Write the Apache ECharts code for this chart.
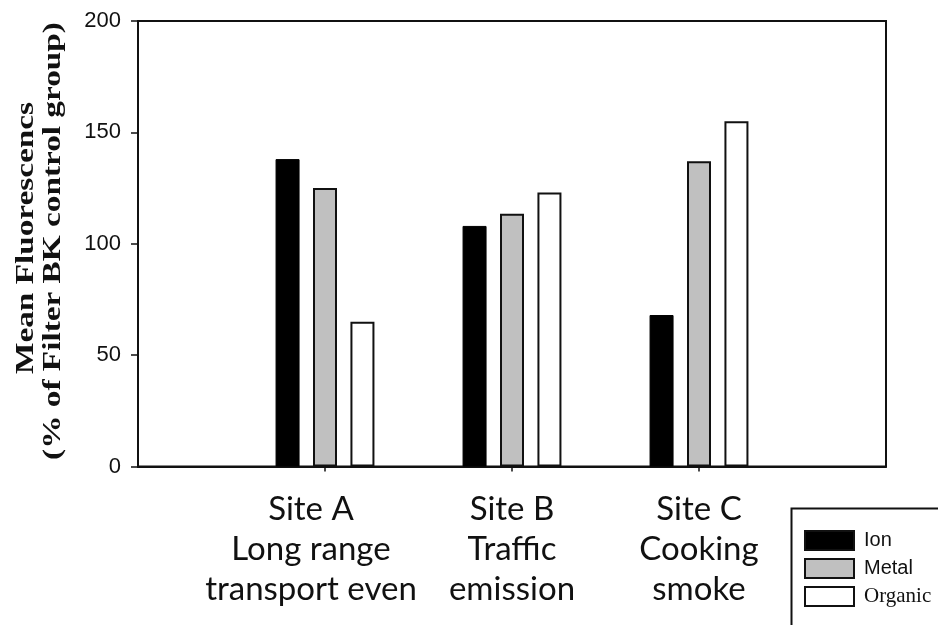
<!DOCTYPE html>
<html>
<head>
<meta charset="utf-8">
<script src="https://cdn.jsdelivr.net/npm/echarts@6/dist/echarts.min.js"></script>
<style>
  html, body { margin: 0; padding: 0; background: #fff; }
  #chart { width: 938px; height: 625px; }
</style>
</head>
<body>
<div id="chart"></div>
<script>
// Sites along the x axis (empty slots keep a one-band margin on each side of the frame)
const siteLabels = ['Site A\nLong range\ntransport event', 'Site B\nTraffic\nemission', 'Site C\nCooking\nsmoke'];
const seriesNames = ['Ion', 'Metal', 'Organic'];
// Mean fluorescence, % of filter BK control group
const ionValues = [138, 108, 68];
const metalValues = [125, 113.5, 137];
const organicValues = [65, 123, 155];
const yTicks = [0, 50, 100, 150, 200];
const yTitleLines = ['Mean Fluorescencs', '(% of Filter BK control group)'];

const pad = arr => [null].concat(arr, [null]);
// The first site's caption sits a little left of its tick and its last line is clipped
const xCategories = [''].concat(siteLabels.map((s, i) => i === 0
  ? { value: s, textStyle: { width: 214, overflow: 'truncate', ellipsis: '', padding: [0, 28, 0, 0] } }
  : s), ['']);

const chart = echarts.init(document.getElementById('chart'), null, { renderer: 'canvas' });

const barBase = { type: 'bar', barWidth: 24, barGap: '56%' };

chart.setOption({
  animation: false,
  backgroundColor: '#fff',
  grid: {
    left: 138, right: 52, top: 21, bottom: 158.5,
    show: true, borderColor: '#111', borderWidth: 2, backgroundColor: 'transparent'
  },
  xAxis: {
    type: 'category',
    data: xCategories,
    boundaryGap: false,
    axisLine: { lineStyle: { color: '#111', width: 2 } },
    axisTick: { show: true, length: 5, interval: idx => idx >= 1 && idx <= siteLabels.length, lineStyle: { color: '#111', width: 1.5 } },
    axisLabel: {
      interval: 0, margin: 23,
      fontFamily: 'Lato', fontSize: 33, lineHeight: 40, color: '#111'
    },
    splitLine: { show: false }
  },
  yAxis: {
    type: 'value',
    min: yTicks[0], max: yTicks[yTicks.length - 1], interval: yTicks[1] - yTicks[0],
    axisLine: { show: true, lineStyle: { color: '#111', width: 2 } },
    axisTick: { show: true, length: 7, lineStyle: { color: '#111', width: 1.5 } },
    axisLabel: { margin: 17, fontFamily: 'Liberation Sans', fontSize: 22, color: '#111' },
    splitLine: { show: false }
  },
  legend: {
    left: 804, top: 530,
    orient: 'vertical',
    padding: 0,
    icon: 'rect',
    itemWidth: 49, itemHeight: 19, itemGap: 7,
    itemStyle: { borderColor: '#111', borderWidth: 2 },
    data: seriesNames,
    formatter: name => name === 'Organic' ? '{serif|' + name + '}' : '{sans|' + name + '}',
    textStyle: {
      rich: {
        sans: { fontFamily: 'Liberation Sans', fontSize: 20, lineHeight: 19, color: '#111', padding: [0, 0, 0, 5] },
        serif: { fontFamily: 'Liberation Serif', fontSize: 21, lineHeight: 19, color: '#111', padding: [0, 0, 0, 5] }
      }
    }
  },
  graphic: [
    // legend frame, running off the right and bottom edges
    {
      type: 'rect', left: 789, top: 506, silent: true,
      shape: { width: 200, height: 160 },
      style: { fill: 'none', stroke: '#111', lineWidth: 2 }
    }
  ].concat(yTitleLines.map((line, i) => ({
    type: 'text',
    x: i === 0 ? 26 : 53,
    y: i === 0 ? 238 : 241,
    rotation: Math.PI / 2,
    scaleX: 1.28,
    style: {
      text: line,
      fontFamily: 'Liberation Serif', fontWeight: 'bold', fontSize: 26,
      fill: '#111', align: 'center', verticalAlign: 'middle'
    }
  }))),
  series: [
    Object.assign({}, barBase, { name: seriesNames[0], data: pad(ionValues),
      itemStyle: { color: '#000', borderColor: '#000', borderWidth: 1 } }),
    Object.assign({}, barBase, { name: seriesNames[1], data: pad(metalValues),
      itemStyle: { color: '#c0c0c0', borderColor: '#111', borderWidth: 2 } }),
    Object.assign({}, barBase, { name: seriesNames[2], data: pad(organicValues),
      itemStyle: { color: '#fff', borderColor: '#111', borderWidth: 2 } })
  ]
});
</script>
</body>
</html>
